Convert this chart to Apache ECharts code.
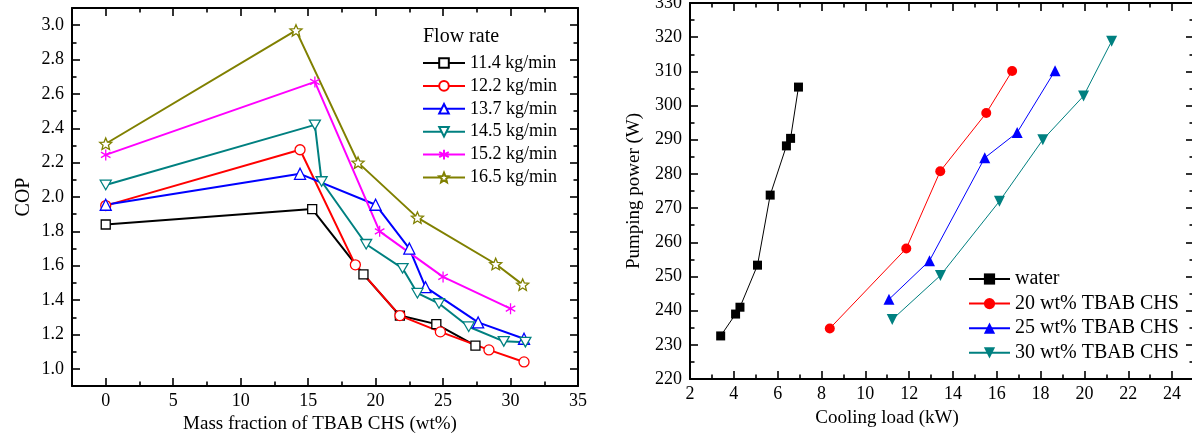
<!DOCTYPE html>
<html><head><meta charset="utf-8">
<script src="https://cdn.jsdelivr.net/npm/echarts@6/dist/echarts.min.js"></script>
<style>html,body{margin:0;padding:0;background:#fff}#c{width:1192px;height:434px}</style>
</head><body><div id="c"></div>
<script>
// ---------- Left chart: COP vs mass fraction ----------
const copNames = ['11.4 kg/min','12.2 kg/min','13.7 kg/min','14.5 kg/min','15.2 kg/min','16.5 kg/min'];
const cop114X = [0, 15.3, 19.1, 21.8, 24.5, 27.4];
const cop114Y = [1.84, 1.93, 1.55, 1.31, 1.26, 1.135];
const cop122X = [0, 14.4, 18.5, 21.8, 24.8, 28.4, 31.0];
const cop122Y = [1.95, 2.275, 1.605, 1.31, 1.215, 1.11, 1.04];
const cop137X = [0, 14.4, 20.0, 22.5, 23.7, 27.6, 31.0];
const cop137Y = [1.955, 2.135, 1.955, 1.70, 1.475, 1.27, 1.175];
const cop145X = [0, 15.5, 16.0, 19.3, 22.0, 23.1, 24.7, 26.9, 29.5, 31.1];
const cop145Y = [2.07, 2.42, 2.09, 1.725, 1.585, 1.44, 1.38, 1.245, 1.16, 1.155];
const cop152X = [0, 15.5, 20.3, 25.0, 30.0];
const cop152Y = [2.245, 2.67, 1.80, 1.535, 1.35];
const cop165X = [0, 14.1, 18.7, 23.1, 28.9, 30.9];
const cop165Y = [2.31, 2.97, 2.20, 1.88, 1.61, 1.49];
const copXMajor = [0, 5, 10, 15, 20, 25, 30, 35];
const copXMinor = [2.5, 7.5, 12.5, 17.5, 22.5, 27.5, 32.5];
const copYMajor = [1.0, 1.2, 1.4, 1.6, 1.8, 2.0, 2.2, 2.4, 2.6, 2.8, 3.0];
const copYMinor = [1.1, 1.3, 1.5, 1.7, 1.9, 2.1, 2.3, 2.5, 2.7, 2.9];

// ---------- Right chart: pumping power vs cooling load ----------
const ppNames = ['water','20 wt% TBAB CHS','25 wt% TBAB CHS','30 wt% TBAB CHS'];
const ppWaterX = [3.40, 4.08, 4.28, 5.08, 5.66, 6.40, 6.59, 6.95];
const ppWaterY = [232.6, 239.0, 241.0, 253.3, 273.8, 288.2, 290.4, 305.4];
const pp20X = [8.38, 11.87, 13.42, 15.52, 16.70];
const pp20Y = [234.8, 258.2, 280.8, 297.8, 310.1];
const pp25X = [11.08, 12.93, 15.45, 16.93, 18.66];
const pp25Y = [243.3, 254.6, 284.7, 292.1, 310.2];
const pp30X = [11.23, 13.43, 16.12, 18.10, 19.96, 21.24];
const pp30Y = [237.4, 250.3, 272.0, 290.0, 302.8, 318.8];
const ppXMajor = [2, 4, 6, 8, 10, 12, 14, 16, 18, 20, 22, 24];
const ppXMinor = [3, 5, 7, 9, 11, 13, 15, 17, 19, 21, 23, 25];
const ppYMajor = [220, 230, 240, 250, 260, 270, 280, 290, 300, 310, 320, 330];
const ppYMinor = [225, 235, 245, 255, 265, 275, 285, 295, 305, 315, 325];

const FONT = 'Liberation Serif';
const zip = (xs, ys) => xs.map((x, i) => [x, ys[i]]);

const STAR = 'path://M0,-100L26.5,-36.4L95.1,-30.9L42.8,13.9L58.8,80.9L0,45L-58.8,80.9L-42.8,13.9L-95.1,-30.9L-26.5,-36.4Z';
const DOWN = 'path://M0,0L100,0L50,86.6Z';
const ASTER = 'path://M50,0L50,100M6.7,25L93.3,75M6.7,75L93.3,25';

function axisPair(grid, pos, min, max, major, minor, opts) {
  opts = opts || {};
  const base = {
    type: 'value', gridIndex: grid, position: pos, min: min, max: max,
    splitLine: {show: false}, axisPointer: {show: false}
  };
  const a = Object.assign({}, base, {
    axisLine: {show: true, onZero: false, lineStyle: {color: '#000', width: 2}},
    axisTick: {show: true, inside: true, length: 8, customValues: major, lineStyle: {color: '#000', width: 1.6}},
    axisLabel: opts.labels ? Object.assign({show: true, customValues: major, color: '#000', fontFamily: FONT, fontSize: 18}, opts.labelExtra || {}) : {show: false},
  });
  if (opts.name) {
    a.name = opts.name;
    a.nameLocation = 'middle';
    a.nameGap = opts.nameGap;
    a.nameTextStyle = Object.assign({color: '#000', fontFamily: FONT, fontSize: opts.nameSize || 20}, opts.nameStyle || {});
  }
  const b = Object.assign({}, base, {
    axisLine: {show: false, onZero: false},
    axisTick: {show: true, inside: true, length: 4.5, customValues: minor, lineStyle: {color: '#000', width: 1.6}},
    axisLabel: {show: false}
  });
  return [a, b];
}

const xAxes = [].concat(
  axisPair(0, 'bottom', -2.5, 35, copXMajor, copXMinor, {labels: true, labelExtra: {margin: 6, formatter: v => String(v)}, name: 'Mass fraction of TBAB CHS (wt%)', nameGap: 21, nameSize: 19, nameStyle: {padding: [0, 10, 0, 0]}}),
  axisPair(0, 'top', -2.5, 35, copXMajor, copXMinor, {}),
  axisPair(1, 'bottom', 2, 25, ppXMajor, ppXMinor, {labels: true, labelExtra: {margin: 6, formatter: v => String(v)}, name: 'Cooling load (kW)', nameGap: 30, nameSize: 19, nameStyle: {padding: [0, 110, 0, 0]}}),
  axisPair(1, 'top', 2, 25, ppXMajor, ppXMinor, {})
);
const yAxes = [].concat(
  axisPair(0, 'left', 0.9, 3.1, copYMajor, copYMinor, {labels: true, labelExtra: {margin: 8, formatter: v => v.toFixed(1)}, name: 'COP', nameGap: 38, nameSize: 20}),
  axisPair(0, 'right', 0.9, 3.1, copYMajor, copYMinor, {}),
  axisPair(1, 'left', 220, 330, ppYMajor, ppYMinor, {labels: true, labelExtra: {margin: 8, formatter: v => String(v)}, name: 'Pumping power (W)', nameGap: 46, nameSize: 19}),
  axisPair(1, 'right', 220, 330, ppYMajor, ppYMinor, {})
);

function copSeries(name, xs, ys, color, symbol, size) {
  return {
    name: name, type: 'line', xAxisIndex: 0, yAxisIndex: 0, data: zip(xs, ys),
    symbol: symbol, symbolSize: size, symbolKeepAspect: true,
    lineStyle: {color: color, width: 2}, color: color,
    itemStyle: {color: '#fff', borderColor: color, borderWidth: 1.3},
    emphasis: {disabled: true}, animation: false
  };
}
function ppSeries(name, xs, ys, color, symbol, size) {
  return {
    name: name, type: 'line', xAxisIndex: 4, yAxisIndex: 4, data: zip(xs, ys),
    symbol: symbol, symbolSize: size,
    lineStyle: {color: color, width: 1}, color: color,
    itemStyle: {color: color, borderWidth: 0},
    emphasis: {disabled: true}, animation: false
  };
}

const series = [
  copSeries(copNames[0], cop114X, cop114Y, '#000000', 'rect', 9),
  copSeries(copNames[1], cop122X, cop122Y, '#ff0000', 'circle', 10),
  copSeries(copNames[2], cop137X, cop137Y, '#0000ff', 'triangle', 11),
  copSeries(copNames[3], cop145X, cop145Y, '#008080', DOWN, 11),
  copSeries(copNames[4], cop152X, cop152Y, '#ff00ff', ASTER, 11),
  copSeries(copNames[5], cop165X, cop165Y, '#808000', STAR, 12),
  ppSeries(ppNames[0], ppWaterX, ppWaterY, '#000000', 'rect', 9),
  ppSeries(ppNames[1], pp20X, pp20Y, '#ff0000', 'circle', 10),
  ppSeries(ppNames[2], pp25X, pp25Y, '#0000ff', 'triangle', 11),
  ppSeries(ppNames[3], pp30X, pp30Y, '#008080', DOWN, 11)
];

const chart = echarts.init(document.getElementById('c'), null, {renderer: 'canvas'});
chart.setOption({
  animation: false,
  backgroundColor: '#fff',
  title: {text: 'Flow rate', left: 423, top: 27, padding: 0, textStyle: {fontFamily: FONT, fontSize: 20, fontWeight: 'normal', color: '#000'}},
  grid: [
    {left: 72, top: 8, width: 506, height: 378, outerBoundsMode: 'none', containLabel: false},
    {left: 690, top: 3, width: 504, height: 376, outerBoundsMode: 'none', containLabel: false}
  ],
  xAxis: xAxes,
  yAxis: yAxes,
  legend: [
    {data: copNames, orient: 'vertical', left: 422, top: 54, padding: 0, itemWidth: 42, itemHeight: 12, itemGap: 4.9,
     textStyle: {fontFamily: FONT, fontSize: 18, color: '#000'}, selectedMode: false},
    {data: ppNames, orient: 'vertical', left: 968, top: 269, padding: 0, itemWidth: 41, itemHeight: 14, itemGap: 4.6,
     textStyle: {fontFamily: FONT, fontSize: 20, color: '#000'}, selectedMode: false}
  ],
  series: series
});
</script>
</body></html>
